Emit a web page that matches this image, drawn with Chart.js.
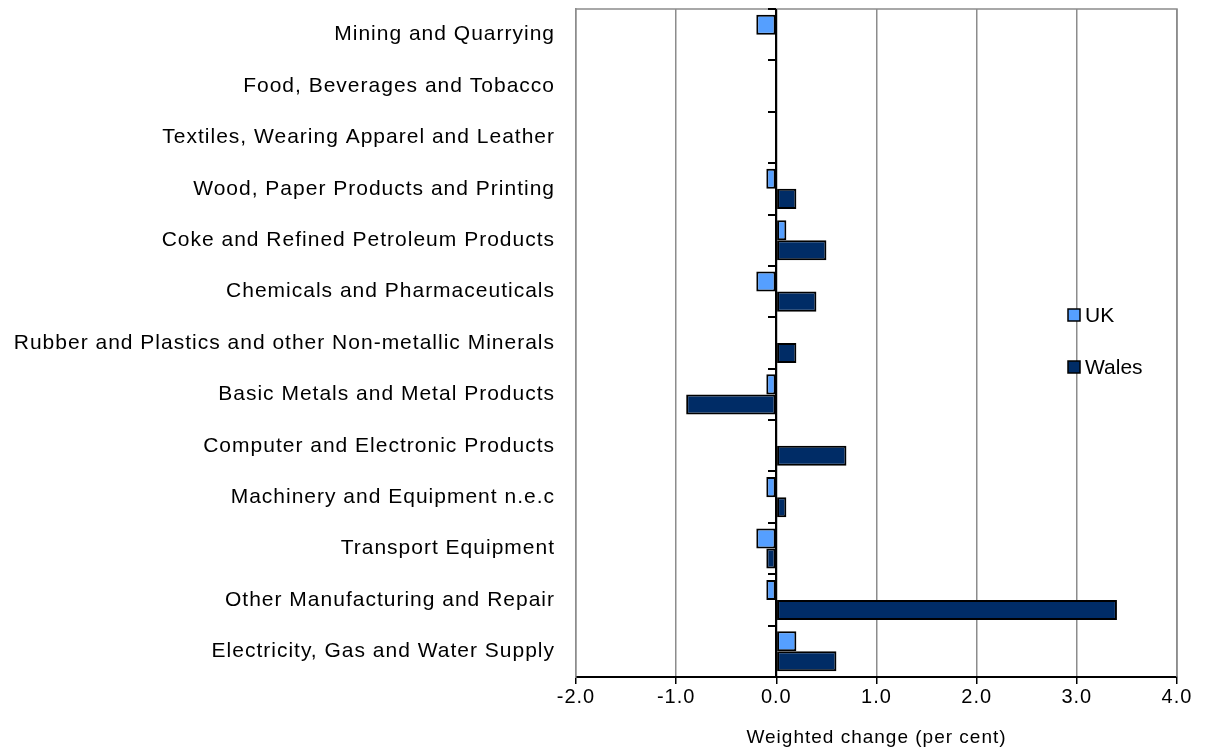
<!DOCTYPE html>
<html>
<head>
<meta charset="utf-8">
<script src="https://cdn.jsdelivr.net/npm/chart.js@4.4.1/dist/chart.umd.min.js"></script>
<style>
  html, body { margin: 0; padding: 0; background: #fff; }
  #wrap { width: 1206px; height: 749px; }
</style>
</head>
<body>
<div id="wrap"><canvas id="sectorChart"></canvas></div>
<script>
const categories = [
    "Mining and Quarrying",
    "Food, Beverages and Tobacco",
    "Textiles, Wearing Apparel and Leather",
    "Wood, Paper Products and Printing",
    "Coke and Refined Petroleum Products",
    "Chemicals and Pharmaceuticals",
    "Rubber and Plastics and other Non-metallic Minerals",
    "Basic Metals and Metal Products",
    "Computer and Electronic Products",
    "Machinery and Equipment n.e.c",
    "Transport Equipment",
    "Other Manufacturing and Repair",
    "Electricity, Gas and Water Supply"
]
const ukValues = [-0.2, 0, 0, -0.1, 0.1, -0.2, 0, -0.1, 0, -0.1, -0.2, -0.1, 0.2]
const walesValues = [0, 0, 0, 0.2, 0.5, 0.4, 0.2, -0.9, 0.7, 0.1, -0.1, 3.4, 0.6]
const xTicks = [-2, -1, 0, 1, 2, 3, 4]

const font = "'Liberation Sans', Arial, sans-serif"

// the original text is a bit wide, so spread the letters a little
const wideText = {
    id: "wideText",
    beforeDraw(chart) { chart.ctx.letterSpacing = "1px" },
    afterDraw(chart) { chart.ctx.letterSpacing = "0px" }
}

// zero line with little category ticks, like the original
const zeroAxis = {
    id: "zeroAxis",
    afterDatasetsDraw(chart) {
        const x = chart.scales.x, y = chart.scales.y, c = chart.ctx
        const x0 = Math.round(x.getPixelForValue(0))
        c.save()
        c.strokeStyle = "#000"
        c.lineWidth = 2
        c.beginPath()
        c.moveTo(x0, y.top)
        c.lineTo(x0, y.bottom)
        const step = (y.bottom - y.top) / categories.length
        for (let i = 0; i <= categories.length; i++) {
            const py = Math.round(y.top + i * step)
            c.moveTo(x0 - 8, py)
            c.lineTo(x0, py)
        }
        c.stroke()
        c.restore()
    }
}

// legend sits inside the plot on the right
const innerLegend = {
    id: "innerLegend",
    afterDraw(chart) {
        const c = chart.ctx
        const rows = [315, 367]
        c.save()
        chart.data.datasets.forEach((ds, i) => {
            const cy = rows[i]
            c.fillStyle = ds.backgroundColor
            c.fillRect(1068, cy - 6, 12, 12)
            c.strokeStyle = "#000"
            c.lineWidth = 1.5
            c.strokeRect(1068, cy - 6, 12, 12)
            c.fillStyle = "#000"
            c.font = "21px " + font
            c.textBaseline = "middle"
            c.fillText(ds.label, 1085, cy + 1)
        })
        c.restore()
    }
}

const frame = {
    id: "frame",
    beforeDatasetsDraw(chart) {
        const a = chart.chartArea, c = chart.ctx
        c.save()
        c.strokeStyle = "#8c8c8c"
        c.lineWidth = 1.5
        c.beginPath()
        c.moveTo(a.left, a.top)
        c.lineTo(a.right, a.top)
        c.lineTo(a.right, a.bottom)
        c.stroke()
        c.restore()
    }
}

const data = {
    labels: categories,
    datasets: [{
        label: "UK",
        data: ukValues,
        backgroundColor: "#559FFF",
        borderColor: "#000",
        borderWidth: 2,
        borderSkipped: false
    }, {
        label: "Wales",
        data: walesValues,
        backgroundColor: "#002C66",
        borderColor: "#000",
        borderWidth: 2,
        borderSkipped: false
    }]
}

const config = {
    type: "bar",
    data: data,
    options: {
        indexAxis: "y",
        responsive: true,
        maintainAspectRatio: false,
        animation: false,
        layout: { padding: { top: 9, right: 29, left: 0, bottom: 0 } },
        datasets: {
            bar: { categoryPercentage: 0.78, barPercentage: 1 }
        },
        plugins: {
            legend: { display: false },
            tooltip: { enabled: false }
        },
        scales: {
            x: {
                min: -2,
                max: 4,
                afterBuildTicks: (s) => { s.ticks = xTicks.map(v => ({ value: v })) },
                afterFit: (s) => { s.height = 72 },
                grid: {
                    color: "#8c8c8c",
                    lineWidth: 1.5,
                    drawTicks: true,
                    tickLength: 7,
                    tickColor: "#000"
                },
                border: { display: true, color: "#000", width: 2 },
                ticks: {
                    color: "#000",
                    font: { family: font, size: 20 },
                    padding: 1,
                    callback: (v) => Number(v).toFixed(1)
                },
                title: {
                    display: true,
                    text: "Weighted change (per cent)",
                    color: "#000",
                    font: { family: font, size: 19 },
                    padding: { top: 3, bottom: 0 }
                }
            },
            y: {
                afterFit: (s) => {
                    s.width = 576
                    s.paddingTop = 0
                    s.paddingBottom = 0
                },
                grid: { display: false },
                border: { display: true, color: "#8c8c8c", width: 1.5 },
                ticks: {
                    color: "#000",
                    font: { family: font, size: 21 },
                    padding: 13,
                    autoSkip: false
                }
            }
        }
    },
    plugins: [wideText, frame, zeroAxis, innerLegend]
}

let ctx = document.getElementById("sectorChart")
new Chart(ctx, config)
</script>
</body>
</html>
